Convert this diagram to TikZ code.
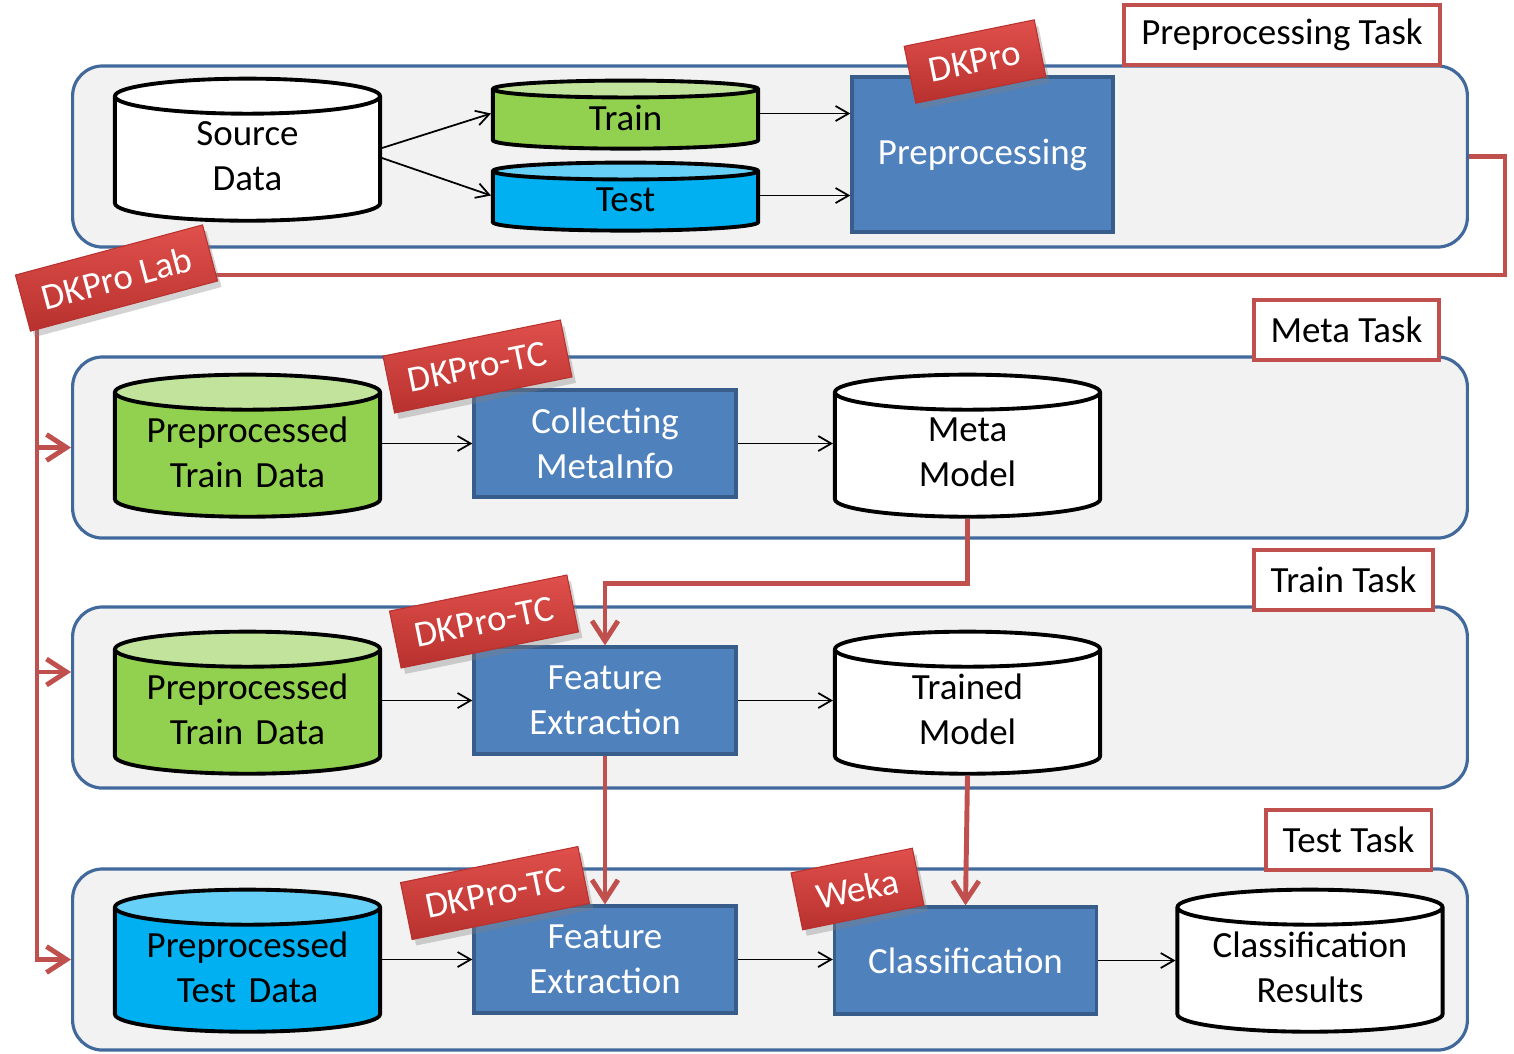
\documentclass[tikz,border=0pt]{standalone}
\usepackage{fontspec}
\setmainfont{Carlito}
\usepackage{tikz}
\usetikzlibrary{shapes.geometric,arrows.meta,shadows}

\definecolor{bandfill}{HTML}{F2F2F2}
\definecolor{bandline}{HTML}{41699B}
\definecolor{boxfill}{HTML}{4F81BD}
\definecolor{boxline}{HTML}{385D8A}
\definecolor{trgreen}{HTML}{92D050}
\definecolor{trgreentop}{HTML}{C2E39B}
\definecolor{tsblue}{HTML}{00B0F0}
\definecolor{tsbluetop}{HTML}{66D0F6}
\definecolor{flowred}{HTML}{C0504D}
\definecolor{tagtop}{HTML}{E0504C}
\definecolor{tagbot}{HTML}{B8312E}

\begin{document}
\begin{tikzpicture}[x=0.01cm,y=-0.01cm,
    txt/.style={font=\fontsize{10.5}{12.8}\selectfont},
    band/.style={draw=bandline,fill=bandfill,line width=0.9pt,rounded corners=0.3cm,
        minimum width=13.94cm,minimum height=1.81cm},
    task/.style={txt,draw=flowred,fill=white,line width=1.1pt,minimum height=0.6cm,inner xsep=0.17cm},
    proc/.style={txt,draw=boxline,fill=boxfill,text=white,line width=0.9pt,align=center,
        minimum width=2.62cm,minimum height=1.07cm},
    db/.style={txt,cylinder,shape border rotate=90,draw,line width=1.1pt,fill=white,align=center,
        text width=2.4cm,minimum width=2.65cm,minimum height=1.42cm,aspect=0.133,
        inner ysep=0pt,text depth=0.58cm},
    traindb/.style={db,fill=none,cylinder uses custom fill,cylinder body fill=trgreen,cylinder end fill=trgreentop},
    testdb/.style={db,fill=none,cylinder uses custom fill,cylinder body fill=tsblue,cylinder end fill=tsbluetop},
    tag/.style={txt,text=white,top color=tagtop,bottom color=tagbot,draw=tagbot,line width=0.3pt,
        minimum height=0.58cm,inner xsep=0.2cm,
        drop shadow={opacity=0.35,shadow xshift=0.4mm,shadow yshift=-0.6mm}},
    flow/.style={draw=flowred,line width=1.4pt,-{Straight Barb[length=2mm,width=2.6mm]}},
    link/.style={line width=0.5pt,-{Straight Barb[length=1.3mm,width=1.5mm]}}]
  \useasboundingbox (0,0) rectangle (1514,1053);

  \node[band] (prepband)  at (770,156.5) {};
  \node[band] (metaband)  at (770,447.5) {};
  \node[band] (trainband) at (770,697.5) {};
  \node[band] (testband)  at (770,959.5) {};

  \node[task] (preptask)  at (1282,35)    {Preprocessing Task};
  \node[task] (metatask)  at (1346.5,330) {Meta Task};
  \node[task] (traintask) at (1343.5,580) {Train Task};
  \node[task] (testtask)  at (1348.5,840) {Test Task};

  % preprocessing
  \node[db] (source) at (247.5,163) {Source\\Data};
  \node[traindb,minimum height=0.68cm,aspect=0.064,inner ysep=1pt,text depth=0.08cm] (train) at (625.5,121.5) {Train};
  \node[testdb,minimum height=0.68cm,aspect=0.064,inner ysep=1pt,text depth=0.08cm] (test) at (625.5,203.5) {Test};
  \node[proc,minimum height=1.55cm,minimum width=2.61cm] (preproc) at (982.5,154.5) {Preprocessing};

  % meta
  \node[traindb] (metadata) at (247.5,459) {Preprocessed\\Train Data};
  \node[proc] (collect) at (605,443.5) {Collecting\\MetaInfo};
  \node[db] (metamodel) at (967.5,459) {Meta\\Model};

  % train
  \node[traindb] (traindata) at (247.5,716) {Preprocessed\\Train Data};
  \node[proc] (trainfe) at (605,700.5) {Feature\\Extraction};
  \node[db] (trainmodel) at (967.5,716) {Trained\\Model};

  % test
  \node[testdb] (testdata) at (247.5,974) {Preprocessed\\Test Data};
  \node[proc] (testfe) at (605,959.5) {Feature\\Extraction};
  \node[proc] (classify) at (965.5,960.5) {Classification};
  \node[db] (results) at (1310,974) {Classification\\Results};

  \coordinate (trainmid) at ([yshift=0.8mm]train.east);
  \coordinate (testmid) at ([yshift=0.8mm]test.east);
  \draw[link] ([yshift=1.5mm]source.east) -- ([yshift=0.8mm]train.west);
  \draw[link] ([yshift=0.5mm]source.east) -- ([yshift=0.8mm]test.west);
  \draw[link] (trainmid) -- (trainmid -| preproc.west);
  \draw[link] (testmid) -- (testmid -| preproc.west);
  \foreach \a/\b in {metadata/collect,traindata/trainfe,testdata/testfe}
    \draw[link] (\a.east |- \b.west) -- (\b.west);
  \foreach \a/\b in {collect/metamodel,trainfe/trainmodel,testfe/classify,classify/results}
    \draw[link] (\a.east) -- (\a.east -| \b.west);

  % dkpro lab
  \coordinate (labtop) at (37,275);
  \coordinate (trainin) at ([yshift=0.255cm]trainband.west);
  \draw[flow] (prepband.east) -| (1505,275) -- (labtop) |- (testband.west);
  \draw[flow] (labtop |- metaband.west) -- (metaband.west);
  \draw[flow] (labtop |- trainin) -- (trainin);
  \draw[flow] (metamodel.south) -- ++(0,65) -| (trainfe.north);
  \draw[flow] (trainfe.south) -- (testfe.north);
  \draw[flow] (trainmodel.south) -- (classify.north);

  \node[tag,rotate=11.5,minimum width=1.25cm] (dkpro) at (975,61.5) {DKPro};
  \node[tag,rotate=15,minimum width=1.88cm] (dkprolab) at (116.5,278) {DKPro Lab};
  \node[tag,rotate=11.5,minimum width=1.73cm] (tcmeta) at (477.5,366.5) {DKPro-TC};
  \node[tag,rotate=11.5,minimum width=1.73cm] (tctrain) at (484,621.5) {DKPro-TC};
  \node[tag,rotate=11.5,minimum width=1.73cm] (tctest) at (495,893) {DKPro-TC};
  \node[tag,rotate=11.5,minimum width=1.11cm] (weka) at (857.5,889) {Weka};
\end{tikzpicture}
\end{document}
